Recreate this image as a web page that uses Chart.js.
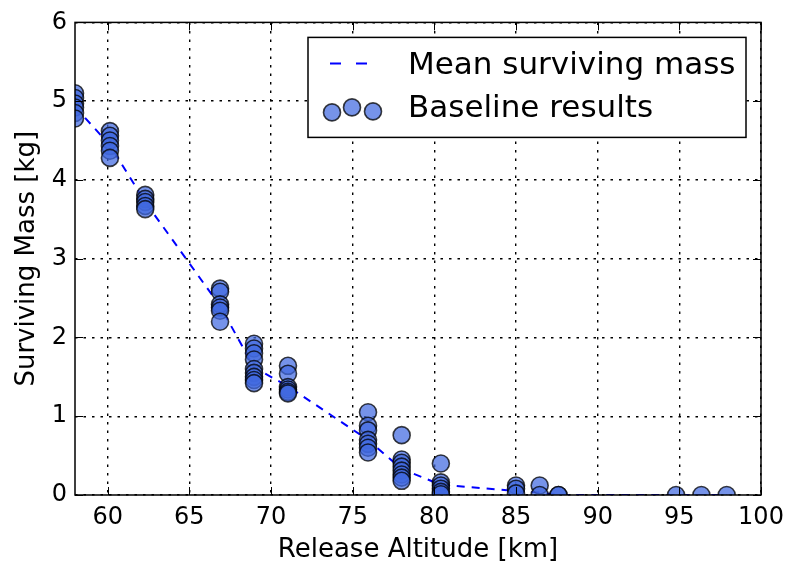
<!DOCTYPE html>
<html>
<head>
<meta charset="utf-8">
<script src="https://cdn.jsdelivr.net/npm/chart.js@4.4.1/dist/chart.umd.min.js"></script>
<style>
  html, body { margin: 0; padding: 0; background: #fff; }
  #wrap { width: 792px; height: 567px; }
</style>
</head>
<body>
<div id="wrap"><canvas id="chart" width="792" height="567"></canvas></div>
<script>
// release altitudes of each batch of runs [km]
const altitudes = [58.0, 60.14, 62.3, 66.88, 68.96, 71.04, 75.94, 78.0, 80.4, 85.0, 86.45, 87.6, 94.8, 96.35, 97.9];

// surviving mass of every baseline run, grouped by altitude [kg]
const baselineMass = [
  [5.10, 5.04, 4.97, 4.92, 4.85, 4.78],
  [4.62, 4.56, 4.50, 4.43, 4.37, 4.28],
  [3.81, 3.76, 3.72, 3.67, 3.63],
  [2.62, 2.58, 2.42, 2.38, 2.34, 2.20],
  [1.92, 1.86, 1.80, 1.72, 1.60, 1.55, 1.50, 1.46, 1.42],
  [1.64, 1.54, 1.37, 1.34, 1.31, 1.29],
  [1.05, 0.88, 0.82, 0.70, 0.65, 0.60, 0.54],
  [0.76, 0.45, 0.41, 0.36, 0.31, 0.26, 0.22, 0.18],
  [0.40, 0.16, 0.12, 0.08, 0.04, 0.01],
  [0.12, 0.08, 0.02],
  [0.12, 0.00],
  [0.00, 0.00],
  [0.00],
  [0.00],
  [0.00]
];

// mean surviving mass at each altitude [kg]
const meanMass = [4.93, 4.44, 3.72, 2.40, 1.62, 1.38, 0.70, 0.33, 0.13, 0.05, 0.03, 0.0, 0.0, 0.0, 0.0];

const xTicks = [60, 65, 70, 75, 80, 85, 90, 95, 100];
const yTicks = [0, 1, 2, 3, 4, 5, 6];

const meanPoints = altitudes.map((x, i) => ({ x: x, y: meanMass[i] }));
const basePoints = [];
altitudes.forEach((x, i) => {
  baselineMass[i].forEach((m) => basePoints.push({ x: x, y: m }));
});

const FILL = "rgba(65, 105, 225, 0.72)";
const EDGE = "rgba(0, 0, 0, 0.75)";
const FONT = "'DejaVu Sans', sans-serif";

// frame, inward ticks on all four sides, and the boxed legend
const framePlugin = {
  id: "frame",
  afterDraw(chart) {
    const ctx = chart.ctx;
    const a = chart.chartArea;
    const xs = chart.scales.x;
    const ys = chart.scales.y;
    ctx.save();
    ctx.strokeStyle = "#000";
    ctx.lineWidth = 1;
    ctx.beginPath();
    xTicks.forEach((v) => {
      const px = Math.round(xs.getPixelForValue(v)) + 0.5;
      ctx.moveTo(px, a.bottom); ctx.lineTo(px, a.bottom - 8);
      ctx.moveTo(px, a.top); ctx.lineTo(px, a.top + 8);
    });
    yTicks.forEach((v) => {
      const py = Math.round(ys.getPixelForValue(v)) + 0.5;
      ctx.moveTo(a.left, py); ctx.lineTo(a.left + 8, py);
      ctx.moveTo(a.right, py); ctx.lineTo(a.right - 8, py);
    });
    ctx.stroke();
    ctx.lineWidth = 1.5;
    ctx.strokeRect(a.left, a.top, a.right - a.left, a.bottom - a.top);

    // legend
    const bw = 438, bh = 100;
    const bx = a.right - 15 - bw;
    const by = a.top + 15;
    ctx.fillStyle = "#fff";
    ctx.fillRect(bx, by, bw, bh);
    ctx.lineWidth = 1.5;
    ctx.strokeStyle = "#000";
    ctx.strokeRect(bx, by, bw, bh);

    const ds = chart.data.datasets;
    // dashed line sample
    ctx.strokeStyle = ds[0].borderColor;
    ctx.lineWidth = ds[0].borderWidth;
    ctx.setLineDash([11, 15]);
    ctx.beginPath();
    ctx.moveTo(bx + 22, by + 26);
    ctx.lineTo(bx + 62, by + 26);
    ctx.stroke();
    ctx.setLineDash([]);
    // three scatter markers
    [[24, 75], [44, 70], [65, 74]].forEach(([dx, dy]) => {
      ctx.beginPath();
      ctx.arc(bx + dx, by + dy, ds[1].pointRadius, 0, Math.PI * 2);
      ctx.fillStyle = ds[1].pointBackgroundColor;
      ctx.fill();
      ctx.lineWidth = ds[1].pointBorderWidth;
      ctx.strokeStyle = ds[1].pointBorderColor;
      ctx.stroke();
    });
    ctx.fillStyle = "#000";
    ctx.font = "31px " + FONT;
    ctx.textBaseline = "alphabetic";
    ctx.textAlign = "left";
    ctx.fillText(ds[0].label, bx + 100, by + 37);
    ctx.fillText(ds[1].label, bx + 100, by + 80);
    ctx.restore();
  }
};

new Chart(document.getElementById("chart"), {
  type: "scatter",
  data: {
    datasets: [
      {
        label: "Mean surviving mass",
        data: meanPoints,
        showLine: true,
        borderColor: "#0000ff",
        borderWidth: 2,
        borderDash: [8, 7],
        pointRadius: 0,
        fill: false,
        order: 2,
        clip: 0
      },
      {
        label: "Baseline results",
        data: basePoints,
        pointRadius: 8.5,
        pointBackgroundColor: FILL,
        pointBorderColor: EDGE,
        pointBorderWidth: 1.6,
        order: 1,
        clip: 0
      }
    ]
  },
  options: {
    responsive: false,
    animation: false,
    events: [],
    layout: { padding: { top: 20, right: 31, left: 0, bottom: 0 } },
    plugins: { legend: { display: false }, tooltip: { enabled: false } },
    scales: {
      x: {
        type: "linear",
        min: 58,
        max: 100,
        afterBuildTicks: (s) => { s.ticks = xTicks.map((v) => ({ value: v })); },
        afterFit: (s) => { s.height = 72; },
        grid: { color: "#000", lineWidth: 1.4, drawTicks: false },
        border: { display: false, dash: [2.5, 6] },
        ticks: { color: "#000", font: { family: FONT, size: 24 }, padding: 8, maxRotation: 0 },
        title: { display: true, text: "Release Altitude [km]", color: "#000", font: { family: FONT, size: 26 }, padding: { top: 0, bottom: 1 } }
      },
      y: {
        type: "linear",
        min: 0,
        max: 6,
        afterBuildTicks: (s) => { s.ticks = yTicks.map((v) => ({ value: v })); },
        afterFit: (s) => { s.width = 75; },
        grid: { color: "#000", lineWidth: 1.4, drawTicks: false },
        border: { display: false, dash: [2.5, 6] },
        ticks: { color: "#000", font: { family: FONT, size: 24 }, padding: 8 },
        title: { display: true, text: "Surviving Mass [kg]", color: "#000", font: { family: FONT, size: 26 }, padding: { top: 12, bottom: 0 } }
      }
    }
  },
  plugins: [framePlugin]
});
</script>
</body>
</html>
